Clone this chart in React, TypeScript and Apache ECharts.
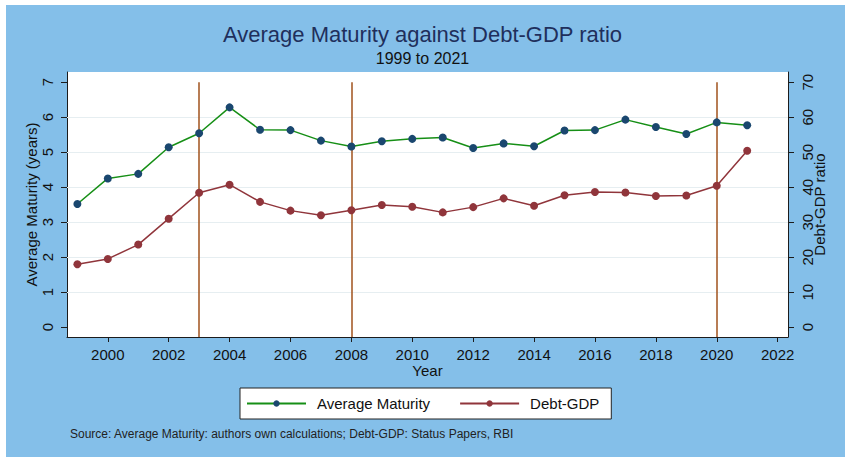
import React, { useEffect, useRef } from "react";
import * as echarts from "echarts";

const years = [1999, 2000, 2001, 2002, 2003, 2004, 2005, 2006, 2007, 2008, 2009, 2010, 2011, 2012, 2013, 2014, 2015, 2016, 2017, 2018, 2019, 2020, 2021];
const avgMaturity = [3.52, 4.25, 4.38, 5.14, 5.54, 6.28, 5.64, 5.63, 5.33, 5.16, 5.31, 5.38, 5.42, 5.12, 5.25, 5.17, 5.62, 5.63, 5.93, 5.72, 5.52, 5.85, 5.77];
const debtGdp = [18.0, 19.5, 23.6, 31.0, 38.4, 40.7, 35.8, 33.3, 32.0, 33.4, 34.9, 34.4, 32.8, 34.3, 36.8, 34.7, 37.7, 38.6, 38.5, 37.5, 37.6, 40.4, 50.4];
const xTicks = [2000, 2002, 2004, 2006, 2008, 2010, 2012, 2014, 2016, 2018, 2020, 2022];
const leftTicks = [0, 1, 2, 3, 4, 5, 6, 7];
const rightTicks = [0, 10, 20, 30, 40, 50, 60, 70];
const gridValues = [1, 2, 3, 4, 5, 6];
const eventYears = [2003, 2008, 2020];

const FONT = "'Liberation Sans', Arial, sans-serif";
const AXIS_COLOR = "#1c1c1c";

export default function App() {
  const ref = useRef<HTMLDivElement>(null);
  useEffect(() => {
    if (!ref.current) return;
    const chart = echarts.init(ref.current, undefined, { renderer: "svg" });
    const xMin = 1998.66, xMax = 2022.34;
    const yMin = -0.28, yMax = 7.29;
    const markData: any[] = [];
    gridValues.forEach((v) => {
      markData.push({ yAxis: v, lineStyle: { color: "#e6eef1", width: 1.2, type: "solid" } });
    });
    eventYears.forEach((yr) => {
      markData.push([
        { coord: [yr, 7], lineStyle: { color: "#a0521c", width: 1.5, type: "solid" } },
        { coord: [yr, yMin] },
      ]);
    });
    chart.setOption({
      animation: false,
      backgroundColor: "#ffffff",
      textStyle: { fontFamily: FONT },
      title: {
        text: "Average Maturity against Debt-GDP ratio",
        subtext: "1999 to 2021",
        left: "center",
        top: 23,
        padding: 0,
        itemGap: 5,
        textStyle: { fontFamily: FONT, fontSize: 22, fontWeight: "normal", color: "#1f2f5c" },
        subtextStyle: { fontFamily: FONT, fontSize: 16, color: "#111111" },
      },
      graphic: [
        { type: "rect", z: -10, shape: { x: 6, y: 5, width: 845, height: 457 }, style: { fill: "#84bfe9" } },
        { type: "rect", z: -9, shape: { x: 67, y: 72, width: 721, height: 265 }, style: { fill: "#ffffff" } },
        {
          type: "text",
          x: 70,
          y: 434,
          style: {
            text: "Source: Average Maturity: authors own calculations; Debt-GDP: Status Papers, RBI",
            fontFamily: FONT,
            fontSize: 12,
            fill: "#222222",
            verticalAlign: "middle",
          },
        },
      ],
      legend: {
        left: 240,
        top: 388,
        orient: "horizontal",
        backgroundColor: "#ffffff",
        borderColor: "#222222",
        borderWidth: 1,
        borderRadius: 0,
        padding: [8, 12, 8, 6],
        itemGap: 29,
        itemWidth: 59,
        itemHeight: 8,
        textStyle: { fontFamily: FONT, fontSize: 15, color: "#111111", padding: [0, 0, 0, 6] },
        data: ["Average Maturity", "Debt-GDP"],
      },
      grid: { left: 67, right: 57, top: 72, bottom: 120, containLabel: false },
      xAxis: {
        type: "value",
        min: xMin,
        max: xMax,
        name: "Year",
        nameLocation: "middle",
        nameGap: 26,
        nameMoveOverlap: false,
        nameTextStyle: { fontFamily: FONT, fontSize: 15, color: "#111111" },
        axisLine: { show: true, onZero: false, lineStyle: { color: AXIS_COLOR, width: 1 } },
        axisTick: { show: true, length: 5, lineStyle: { color: AXIS_COLOR }, customValues: xTicks },
        axisLabel: { fontFamily: FONT, fontSize: 15, color: "#111111", margin: 10, customValues: xTicks, formatter: (v: number) => String(v) },
        splitLine: { show: false },
      },
      yAxis: [
        {
          type: "value",
          position: "left",
          min: yMin,
          max: yMax,
          name: "Average Maturity (years)",
          nameLocation: "middle",
          nameRotate: 90,
          nameGap: 28,
          nameMoveOverlap: false,
          nameTextStyle: { fontFamily: FONT, fontSize: 15, color: "#111111" },
          axisLine: { show: true, onZero: false, lineStyle: { color: AXIS_COLOR, width: 1 } },
          axisTick: { show: true, length: 6, lineStyle: { color: AXIS_COLOR }, customValues: leftTicks },
          axisLabel: { fontFamily: FONT, fontSize: 15, color: "#111111", rotate: 90, margin: 12, customValues: leftTicks, formatter: (v: number) => String(v) },
          splitLine: { show: false },
        },
        {
          type: "value",
          position: "right",
          min: yMin * 10,
          max: yMax * 10,
          name: "Debt-GDP ratio",
          nameLocation: "middle",
          nameRotate: 90,
          nameGap: 24,
          nameMoveOverlap: false,
          nameTextStyle: { fontFamily: FONT, fontSize: 15, color: "#111111" },
          axisLine: { show: true, onZero: false, lineStyle: { color: AXIS_COLOR, width: 1 } },
          axisTick: { show: true, length: 6, lineStyle: { color: AXIS_COLOR }, customValues: rightTicks },
          axisLabel: { fontFamily: FONT, fontSize: 15, color: "#111111", rotate: 90, margin: 12, customValues: rightTicks, formatter: (v: number) => String(v) },
          splitLine: { show: false },
        },
      ],
      series: [
        {
          name: "Average Maturity",
          type: "line",
          yAxisIndex: 0,
          z: 5,
          clip: false,
          data: years.map((y, i) => [y, avgMaturity[i]]),
          symbol: "circle",
          symbolSize: 8,
          showSymbol: true,
          lineStyle: { color: "#168f16", width: 1.5 },
          itemStyle: { color: "#1a476f" },
          markLine: {
            silent: true,
            symbol: ["none", "none"],
            z: 2,
            label: { show: false },
            data: markData,
          },
        },
        {
          name: "Debt-GDP",
          type: "line",
          yAxisIndex: 1,
          z: 5,
          clip: false,
          data: years.map((y, i) => [y, debtGdp[i]]),
          symbol: "circle",
          symbolSize: 8,
          showSymbol: true,
          lineStyle: { color: "#90353b", width: 1.5 },
          itemStyle: { color: "#90353b" },
        },
      ],
    });
    return () => chart.dispose();
  }, []);
  return <div ref={ref} style={{ position: "fixed", left: 0, top: 0, width: 845, height: 457 }} />;
}
